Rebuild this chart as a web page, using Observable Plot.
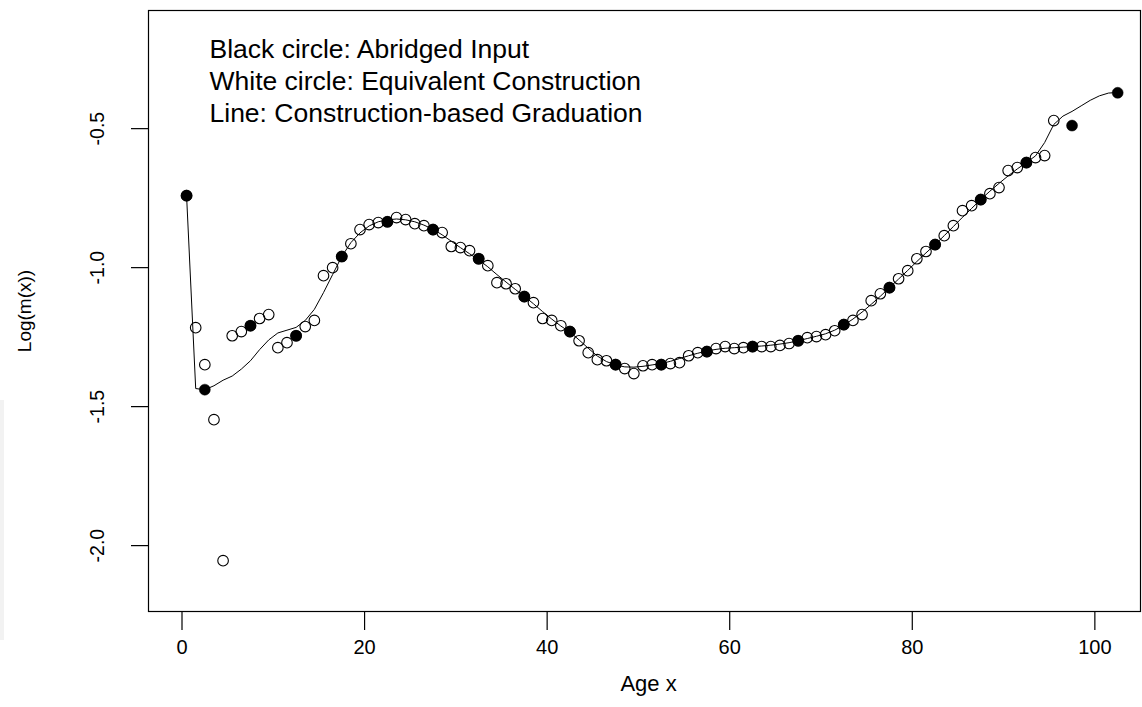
<!DOCTYPE html>
<html>
<head>
<meta charset="utf-8">
<script src="https://cdn.jsdelivr.net/npm/d3@7"></script>
<script src="https://cdn.jsdelivr.net/npm/@observablehq/plot@0.6"></script>
<style>
  html, body { margin: 0; padding: 0; background: #fff; }
  #wrap { position: relative; width: 1142px; height: 707px; }
  #strip { position: absolute; left: 0; top: 400px; width: 4px; height: 240px; background: #f2f2f2; }
  svg { font-family: "Liberation Sans", Arial, sans-serif; }
</style>
</head>
<body>
<div id="wrap"><div id="strip"></div></div>
<script>
// Abridged input (black circles)
const abridgedAge = [0.5, 2.5, 7.5, 12.5, 17.5, 22.5, 27.5, 32.5, 37.5, 42.5, 47.5, 52.5, 57.5, 62.5, 67.5, 72.5, 77.5, 82.5, 87.5, 92.5, 97.5, 102.5];
const abridgedLogM = [-0.741, -1.439, -1.209, -1.245, -0.960, -0.835, -0.863, -0.968, -1.104, -1.230, -1.349, -1.349, -1.302, -1.284, -1.263, -1.205, -1.072, -0.917, -0.755, -0.622, -0.489, -0.371];

// Equivalent construction (white circles), single ages
const singleAge = [0.5, 1.5, 2.5, 3.5, 4.5, 5.5, 6.5, 7.5, 8.5, 9.5, 10.5, 11.5, 12.5, 13.5, 14.5, 15.5, 16.5, 17.5, 18.5, 19.5,
  20.5, 21.5, 22.5, 23.5, 24.5, 25.5, 26.5, 27.5, 28.5, 29.5, 30.5, 31.5, 32.5, 33.5, 34.5, 35.5, 36.5, 37.5, 38.5, 39.5,
  40.5, 41.5, 42.5, 43.5, 44.5, 45.5, 46.5, 47.5, 48.5, 49.5, 50.5, 51.5, 52.5, 53.5, 54.5, 55.5, 56.5, 57.5, 58.5, 59.5,
  60.5, 61.5, 62.5, 63.5, 64.5, 65.5, 66.5, 67.5, 68.5, 69.5, 70.5, 71.5, 72.5, 73.5, 74.5, 75.5, 76.5, 77.5, 78.5, 79.5,
  80.5, 81.5, 82.5, 83.5, 84.5, 85.5, 86.5, 87.5, 88.5, 89.5, 90.5, 91.5, 92.5, 93.5, 94.5, 95.5];
const singleLogM = [-0.741, -1.216, -1.349, -1.547, -2.054, -1.245, -1.230, -1.209, -1.183, -1.169, -1.288, -1.270, -1.245, -1.212, -1.190, -1.029, -1.000, -0.960, -0.914, -0.863,
  -0.845, -0.838, -0.835, -0.820, -0.827, -0.842, -0.849, -0.863, -0.874, -0.924, -0.928, -0.939, -0.968, -0.993, -1.054, -1.058, -1.076, -1.104, -1.126, -1.183,
  -1.190, -1.209, -1.230, -1.263, -1.306, -1.331, -1.335, -1.349, -1.363, -1.381, -1.353, -1.349, -1.349, -1.345, -1.342, -1.317, -1.306, -1.302, -1.291, -1.284,
  -1.291, -1.288, -1.284, -1.284, -1.284, -1.280, -1.273, -1.263, -1.252, -1.248, -1.241, -1.227, -1.205, -1.190, -1.169, -1.119, -1.094, -1.072, -1.040, -1.011,
  -0.968, -0.942, -0.917, -0.885, -0.849, -0.795, -0.777, -0.755, -0.734, -0.712, -0.651, -0.640, -0.622, -0.604, -0.597, -0.471];

// Construction-based graduation (line)
const gradAge = [0.5, 1.5, 2.5, 3.5, 4.5, 5.5, 6.5, 7.5, 8.5, 9.5, 10.5, 11.5, 12.5, 13.5, 14.5, 15.5, 16.5, 17.5, 18.5, 19.5,
  20.5, 21.5, 22.5, 23.5, 24.5, 25.5, 26.5, 27.5, 28.5, 29.5, 30.5, 31.5, 32.5, 33.5, 34.5, 35.5, 36.5, 37.5, 38.5, 39.5,
  40.5, 41.5, 42.5, 43.5, 44.5, 45.5, 46.5, 47.5, 48.5, 49.5, 50.5, 51.5, 52.5, 53.5, 54.5, 55.5, 56.5, 57.5, 58.5, 59.5,
  60.5, 61.5, 62.5, 63.5, 64.5, 65.5, 66.5, 67.5, 68.5, 69.5, 70.5, 71.5, 72.5, 73.5, 74.5, 75.5, 76.5, 77.5, 78.5, 79.5,
  80.5, 81.5, 82.5, 83.5, 84.5, 85.5, 86.5, 87.5, 88.5, 89.5, 90.5, 91.5, 92.5, 93.5, 94.5, 95.5, 96.5, 97.5, 98.5, 99.5,
  100.5, 101.5, 102.5];
const gradLogM = [-0.741, -1.435, -1.439, -1.425, -1.405, -1.390, -1.365, -1.335, -1.295, -1.260, -1.235, -1.225, -1.215, -1.190, -1.150, -1.090, -1.025, -0.960, -0.910, -0.875,
  -0.850, -0.835, -0.828, -0.825, -0.828, -0.835, -0.847, -0.862, -0.882, -0.905, -0.928, -0.950, -0.972, -0.997, -1.025, -1.052, -1.078, -1.103, -1.130, -1.158,
  -1.185, -1.210, -1.232, -1.260, -1.290, -1.318, -1.338, -1.350, -1.357, -1.358, -1.355, -1.350, -1.345, -1.337, -1.327, -1.317, -1.308, -1.300, -1.294, -1.290,
  -1.288, -1.286, -1.284, -1.282, -1.279, -1.275, -1.270, -1.263, -1.255, -1.247, -1.238, -1.225, -1.207, -1.185, -1.160, -1.132, -1.103, -1.072, -1.041, -1.010,
  -0.978, -0.947, -0.917, -0.885, -0.852, -0.819, -0.787, -0.755, -0.725, -0.697, -0.670, -0.645, -0.622, -0.598, -0.550, -0.485, -0.455, -0.438, -0.418, -0.398,
  -0.382, -0.372, -0.370];

const xTicks = [0, 20, 40, 60, 80, 100];
const yTicks = [-2.0, -1.5, -1.0, -0.5];
const legendLines = ["Black circle: Abridged Input", "White circle: Equivalent Construction", "Line: Construction-based Graduation"];
const xLabel = "Age x";
const yLabel = "Log(m(x))";

const abridged = abridgedAge.map((a, i) => ({age: a, v: abridgedLogM[i]}));
const single = singleAge.map((a, i) => ({age: a, v: singleLogM[i]}));
const grad = gradAge.map((a, i) => ({age: a, v: gradLogM[i]}));

const chart = Plot.plot({
  width: 1142,
  height: 707,
  marginLeft: 148,
  marginRight: 2,
  marginTop: 10,
  marginBottom: 96,
  style: {background: "#fff", fontFamily: "'Liberation Sans', Arial, sans-serif", color: "#000", overflow: "visible"},
  x: {domain: [-3.67, 105]},
  y: {domain: [-2.237, -0.075]},
  marks: [
    Plot.line(grad, {x: "age", y: "v", stroke: "#000", strokeWidth: 1}),
    Plot.dot(single, {x: "age", y: "v", r: 5.3, stroke: "#000", fill: "none", strokeWidth: 1.1}),
    Plot.dot(abridged, {x: "age", y: "v", r: 5.5, fill: "#000", stroke: "#000", strokeWidth: 0.5}),
    Plot.frame({stroke: "#000", strokeWidth: 1.2}),
    Plot.axisX({ticks: xTicks, tickSize: 19, tickPadding: 9, fontSize: 20, tickFormat: d3.format("d"), label: null, stroke: "#000", strokeWidth: 1.2}),
    Plot.axisY({ticks: yTicks, tickSize: 17, tickFormat: () => "", label: null, stroke: "#000", strokeWidth: 1.2}),
    Plot.text(yTicks, {y: d => d, frameAnchor: "left", dx: -51, rotate: -90, textAnchor: "middle", text: d => d.toFixed(1), fontSize: 19.5, fill: "#000"}),
    Plot.text([xLabel], {frameAnchor: "bottom", dy: 79, dx: 4, textAnchor: "middle", text: d => d, fontSize: 22, fill: "#000"}),
    Plot.text([yLabel], {frameAnchor: "left", dx: -124, rotate: -90, textAnchor: "middle", text: d => d, fontSize: 19, fill: "#000"}),
    Plot.text([legendLines.join("\n")], {frameAnchor: "top-left", dx: 61, dy: 25, textAnchor: "start", text: d => d, fontSize: 26.5, lineHeight: 1.2, lineAnchor: "top", fill: "#000"})
  ]
});
document.getElementById("wrap").appendChild(chart);
</script>
</body>
</html>
